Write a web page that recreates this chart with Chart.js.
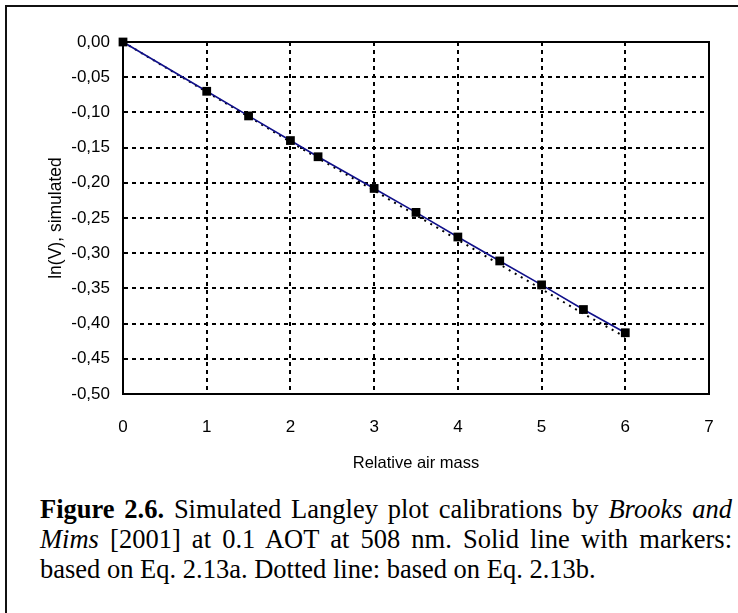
<!DOCTYPE html>
<html>
<head>
<meta charset="utf-8">
<script src="https://cdn.jsdelivr.net/npm/chart.js@4/dist/chart.umd.min.js"></script>
<style>
  html, body { margin: 0; padding: 0; background: #fff; overflow: hidden; }
  body { width: 738px; height: 613px; position: relative; }
  #frame {
    position: absolute; left: 5px; top: 5px; width: 800px; height: 700px;
    border-left: 2px solid #111; border-top: 2px solid #111;
  }
  #plot { position: absolute; left: 0; top: 0; }
  #caption {
    position: absolute; left: 40px; top: 494px; width: 692px;
    font-family: "Liberation Serif", "Times New Roman", serif;
    font-size: 26.5px; line-height: 30px; color: #000;
  }
  #caption .just { text-align: justify; text-align-last: justify; }
</style>
</head>
<body>
<div id="frame"></div>
<canvas id="plot" width="738" height="490"></canvas>
<div id="caption">
  <div class="just"><b>Figure 2.6.</b> Simulated Langley plot calibrations by <i>Brooks and</i></div>
  <div class="just"><i>Mims</i> [2001] at 0.1 AOT at 508 nm. Solid line with markers:</div>
  <div>based on Eq. 2.13a. Dotted line: based on Eq. 2.13b.</div>
</div>
<script>
// Air mass values and simulated ln(V)
const airMass = [0, 1, 1.5, 2, 2.33, 3, 3.5, 4, 4.5, 5, 5.5, 6]
const lnV_eq13a = [0, -0.070, -0.105, -0.140, -0.163, -0.208, -0.242, -0.277, -0.311, -0.345, -0.380, -0.413]
const lnV_eq13b = [0, -0.071, -0.106, -0.142, -0.165, -0.211, -0.246, -0.281, -0.316, -0.351, -0.386, -0.419]

// Axis ranges
const xMin = 0, xMax = 7, xStep = 1
const yMin = -0.5, yMax = 0, yStep = 0.05

const toPoints = (ys) => airMass.map((x, i) => ({ x: x, y: ys[i] }))

// Solid box around the plot area
const plotFrame = {
  id: 'plotFrame',
  beforeDatasetsDraw(chart) {
    const { ctx, chartArea: a } = chart
    ctx.save()
    ctx.lineWidth = 2
    ctx.strokeStyle = '#000'
    ctx.strokeRect(a.left, a.top, a.right - a.left, a.bottom - a.top)
    ctx.restore()
  }
}

Chart.defaults.font.family = '"Liberation Sans", Arial, sans-serif'
Chart.defaults.color = '#000'

new Chart(document.getElementById('plot'), {
  type: 'line',
  data: {
    datasets: [
      {
        label: 'Eq. 2.13a',
        data: toPoints(lnV_eq13a),
        borderColor: '#10108a',
        borderWidth: 1.6,
        pointStyle: 'rect',
        pointRadius: 6.2,
        pointBackgroundColor: '#000',
        pointBorderColor: '#000',
        pointBorderWidth: 0,
        clip: false
      },
      {
        label: 'Eq. 2.13b',
        data: toPoints(lnV_eq13b),
        borderColor: '#000',
        borderWidth: 2,
        borderDash: [2, 5],
        pointRadius: 0,
        clip: false
      }
    ]
  },
  options: {
    responsive: false,
    animation: false,
    layout: { padding: { left: 0, top: 42, right: 29, bottom: 0 } },
    plugins: { legend: { display: false }, tooltip: { enabled: false } },
    elements: { line: { tension: 0 } },
    scales: {
      x: {
        type: 'linear',
        min: xMin, max: xMax,
        ticks: { stepSize: xStep, padding: 23, font: { size: 17 } },
        grid: { color: '#000', lineWidth: 2, drawTicks: false },
        border: { display: true, color: '#000', width: 2, dash: [4, 4] },
        title: { display: true, text: 'Relative air mass', font: { size: 16.5 }, padding: { top: 0, bottom: 17 } },
        afterFit: (scale) => { scale.height = 96 }
      },
      y: {
        type: 'linear',
        min: yMin, max: yMax,
        ticks: {
          stepSize: yStep, padding: 13, font: { size: 17 },
          callback: (v) => v.toFixed(2).replace('.', ',')
        },
        grid: { color: '#000', lineWidth: 2, drawTicks: false },
        border: { display: true, color: '#000', width: 2, dash: [4, 4] },
        title: { display: true, text: 'ln(V), simulated', font: { size: 17.5 }, padding: { top: 46, bottom: 0 } },
        afterFit: (scale) => { scale.width = 123 }
      }
    }
  },
  plugins: [plotFrame]
})
</script>
</body>
</html>
